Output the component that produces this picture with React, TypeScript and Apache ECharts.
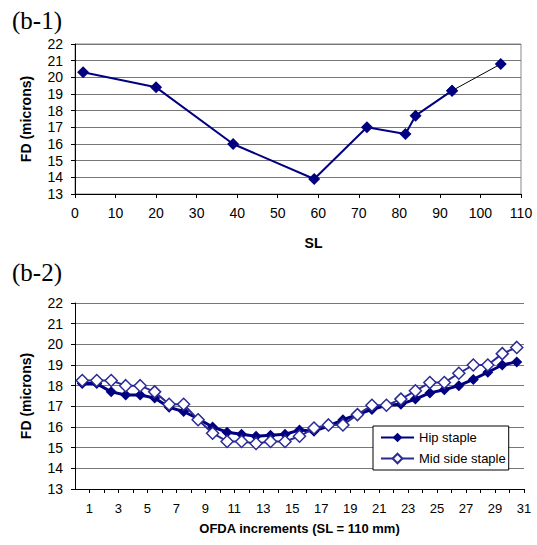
import React, { useEffect, useRef } from "react";
import * as echarts from "echarts";

// (b-1): fibre diameter along the staple
const slPositions = [2, 20, 39, 59, 72, 81.5, 84, 93, 105];
const fdAlongStaple = [20.3, 19.4, 16.0, 13.9, 17.0, 16.6, 17.7, 19.2, 20.8];

// (b-2): OFDA increments
const ofdaIncrements = [1, 2, 3, 4, 5, 6, 7, 8, 9, 10, 11, 12, 13, 14, 15, 16, 17, 18, 19, 20, 21, 22, 23, 24, 25, 26, 27, 28, 29, 30, 31];
const hipStaple = [18.1, 18.1, 17.7, 17.55, 17.55, 17.4, 16.95, 16.75, 16.4, 16.0, 15.75, 15.65, 15.55, 15.6, 15.65, 15.85, 15.8, 16.05, 16.35, 16.6, 16.85, 17.05, 17.1, 17.35, 17.65, 17.8, 18.0, 18.3, 18.65, 19.0, 19.15];
const midSideStaple = [18.25, 18.25, 18.25, 18.0, 18.0, 17.7, 17.1, 17.1, 16.35, 15.7, 15.3, 15.3, 15.2, 15.3, 15.3, 15.55, 15.95, 16.1, 16.1, 16.6, 17.05, 17.05, 17.35, 17.75, 18.15, 18.15, 18.6, 19.0, 19.0, 19.55, 19.85];

const SANS = "'Liberation Sans', Arial, sans-serif";
const SERIF = "'Liberation Serif', 'Times New Roman', serif";
const NAVY = "#000080";
const GRID_LINE = "#777777";

export default function App() {
  const ref = useRef<HTMLDivElement>(null);

  useEffect(() => {
    if (!ref.current) return;
    const chart = echarts.init(ref.current, undefined, { renderer: "svg" });

    const mainCount = slPositions.length - 1;
    const b1Main = slPositions.slice(0, mainCount).map((x, i) => [x, fdAlongStaple[i]]);
    const b1Tail = slPositions.slice(mainCount - 1).map((x, i) => [x, fdAlongStaple[mainCount - 1 + i]]);
    const hipData = ofdaIncrements.map((n, i) => [n - 0.5, hipStaple[i]]);
    const midData = ofdaIncrements.map((n, i) => [n - 0.5, midSideStaple[i]]);

    const yAxisCommon = {
      type: "value" as const,
      min: 13,
      max: 22,
      interval: 1,
      axisLine: { show: true, lineStyle: { color: "#000", width: 1 } },
      axisTick: { show: true, length: 4, lineStyle: { color: "#000" } },
      splitLine: { show: true, lineStyle: { color: GRID_LINE, width: 1 } },
      name: "FD (microns)",
      nameLocation: "middle" as const,
      nameRotate: 90,
      nameTextStyle: { fontFamily: SANS, fontWeight: "bold" as const, fontSize: 14, color: "#000" },
    };

    chart.setOption({
      animation: false,
      backgroundColor: "#ffffff",
      textStyle: { fontFamily: SANS },
      graphic: [
        {
          type: "text",
          left: 12,
          top: 8,
          style: { text: "(b-1)", font: `25px ${SERIF}`, fill: "#000" },
        },
        {
          type: "text",
          left: 12,
          top: 260,
          style: { text: "(b-2)", font: `25px ${SERIF}`, fill: "#000" },
        },
      ],
      grid: [
        { left: 75, top: 44, width: 446, height: 150, show: true, borderColor: "#888", borderWidth: 1, backgroundColor: "transparent" },
        { left: 75, top: 303, width: 449, height: 186 },
      ],
      xAxis: [
        {
          gridIndex: 0,
          type: "value",
          min: 0,
          max: 110,
          interval: 10,
          axisLine: { show: true, onZero: false, lineStyle: { color: "#000" } },
          axisTick: { show: true, length: 4, lineStyle: { color: "#000" } },
          splitLine: { show: false },
          axisLabel: { fontSize: 14, color: "#000", margin: 12, fontFamily: SANS },
          name: "SL",
          nameLocation: "middle",
          nameGap: 42,
          nameTextStyle: { fontFamily: SANS, fontWeight: "bold", fontSize: 14, color: "#000", padding: [0, 0, 0, 31] },
        },
        {
          gridIndex: 1,
          type: "value",
          min: 0,
          max: 31,
          interval: 1,
          axisLine: { show: true, onZero: false, lineStyle: { color: "#000" } },
          axisTick: { show: true, length: 4, lineStyle: { color: "#000" } },
          splitLine: { show: false },
          axisLabel: {
            fontSize: 13,
            color: "#000",
            margin: 13,
            fontFamily: SANS,
            showMinLabel: false,
            showMaxLabel: true,
            formatter: (v: number) => (v % 2 === 1 ? String(v) : ""),
          },
          name: "OFDA increments (SL = 110 mm)",
          nameLocation: "middle",
          nameGap: 33,
          nameTextStyle: { fontFamily: SANS, fontWeight: "bold", fontSize: 13, color: "#000" },
        },
      ],
      yAxis: [
        {
          ...yAxisCommon,
          gridIndex: 0,
          nameGap: 42,
          axisLabel: { fontSize: 14, color: "#000", margin: 12, fontFamily: SANS },
        },
        {
          ...yAxisCommon,
          gridIndex: 1,
          nameGap: 42,
          axisLabel: { fontSize: 14, color: "#000", margin: 12, fontFamily: SANS },
        },
      ],
      legend: {
        show: true,
        orient: "vertical",
        left: 373,
        top: 426,
        backgroundColor: "#ffffff",
        borderColor: "#000",
        borderWidth: 1,
        borderRadius: 0,
        padding: [5, 3, 5, 7],
        itemGap: 8,
        itemWidth: 33,
        itemHeight: 12,
        data: ["Hip staple", "Mid side staple"],
        textStyle: { fontFamily: SANS, fontSize: 13, color: "#000" },
      },
      series: [
        {
          name: "FD along staple",
          type: "line",
          xAxisIndex: 0,
          yAxisIndex: 0,
          data: b1Main,
          symbol: "diamond",
          symbolSize: 12,
          lineStyle: { color: NAVY, width: 2 },
          itemStyle: { color: NAVY },
          z: 3,
        },
        {
          name: "FD tip",
          type: "line",
          xAxisIndex: 0,
          yAxisIndex: 0,
          data: b1Tail,
          symbol: "diamond",
          symbolSize: 12,
          lineStyle: { color: "#000", width: 1 },
          itemStyle: { color: NAVY },
          z: 2,
        },
        {
          name: "Hip staple",
          type: "line",
          xAxisIndex: 1,
          yAxisIndex: 1,
          data: hipData,
          symbol: "diamond",
          symbolSize: 11,
          lineStyle: { color: NAVY, width: 3 },
          itemStyle: { color: NAVY },
          z: 3,
        },
        {
          name: "Mid side staple",
          type: "line",
          xAxisIndex: 1,
          yAxisIndex: 1,
          data: midData,
          symbol: "diamond",
          symbolSize: 12,
          lineStyle: { color: "#2b2b95", width: 2 },
          itemStyle: { color: "#ffffff", borderColor: "#2b2b95", borderWidth: 1.5 },
          z: 4,
        },
      ],
    });

    return () => chart.dispose();
  }, []);

  return (
    <div
      ref={ref}
      style={{ position: "fixed", left: 0, top: 0, width: 537, height: 545, background: "#fff" }}
    />
  );
}
